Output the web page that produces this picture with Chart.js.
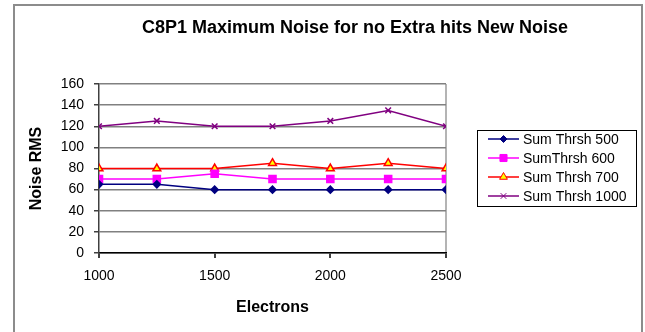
<!DOCTYPE html>
<html>
<head>
<meta charset="utf-8">
<script src="https://cdn.jsdelivr.net/npm/chart.js"></script>
<style>
  body { margin: 0; background: #fff; }
  #wrap { width: 645px; height: 332px; }
</style>
</head>
<body>
<div id="wrap"><canvas id="myChart" width="645" height="332"></canvas></div>
<script>
// values
const electrons = [1000, 1250, 1500, 1750, 2000, 2250, 2500];
const thrsh500 = [65, 65, 60, 60, 60, 60, 60];
const thrsh600 = [70, 70, 75, 70, 70, 70, 70];
const thrsh700 = [80, 80, 80, 85, 80, 85, 80];
const thrsh1000 = [120, 125, 120, 120, 125, 135, 120];
const seriesNames = ["Sum Thrsh 500", "SumThrsh 600", "Sum Thrsh 700", "Sum Thrsh 1000"];
const chartTitle = "C8P1 Maximum Noise for no Extra hits New Noise";

const FONT = "'Liberation Sans', Arial, sans-serif";

function pts(vals) {
    return electrons.map((x, i) => ({ x: x, y: vals[i] }));
}

// frame, title and boxed legend like the spreadsheet chart
const decor = {
    id: "decor",
    beforeDraw(chart) {
        const ctx = chart.ctx;
        ctx.save();
        ctx.strokeStyle = "#8c8c8c";
        ctx.lineWidth = 2;
        ctx.beginPath();
        ctx.moveTo(14, 340);
        ctx.lineTo(14, 5);
        ctx.lineTo(642, 5);
        ctx.lineTo(642, 340);
        ctx.stroke();
        ctx.restore();
    },
    afterDraw(chart) {
        const ctx = chart.ctx;
        ctx.save();
        ctx.fillStyle = "#000";
        ctx.font = "bold 18px " + FONT;
        ctx.textAlign = "center";
        ctx.textBaseline = "middle";
        ctx.fillText(chartTitle, 355, 28);

        // legend
        ctx.strokeStyle = "#000";
        ctx.lineWidth = 1;
        ctx.strokeRect(477.5, 130.5, 159, 76);
        ctx.font = "14px " + FONT;
        ctx.textAlign = "left";
        chart.data.datasets.forEach((ds, i) => {
            const y = 139 + i * 19;
            ctx.strokeStyle = ds.borderColor;
            ctx.lineWidth = ds.borderWidth;
            ctx.beginPath();
            ctx.moveTo(488, y);
            ctx.lineTo(519, y);
            ctx.stroke();
            ctx.fillStyle = ds.pointBackgroundColor;
            ctx.strokeStyle = ds.pointBorderColor;
            ctx.lineWidth = 1;
            Chart.helpers.drawPoint(ctx, {
                pointStyle: ds.pointStyle,
                radius: ds.pointRadius,
                rotation: 0,
                borderWidth: 1
            }, 503.5, y);
            ctx.fillStyle = "#000";
            ctx.fillText(ds.label, 523, y + 1);
        });
        ctx.restore();
    }
};

const data = {
    datasets: [{
        label: seriesNames[0],
        data: pts(thrsh500),
        borderColor: "#000080",
        borderWidth: 1.5,
        pointStyle: "rectRot",
        pointRadius: 3.5,
        pointBackgroundColor: "#000080",
        pointBorderColor: "#000080"
    }, {
        label: seriesNames[1],
        data: pts(thrsh600),
        borderColor: "#ff00ff",
        borderWidth: 1.5,
        pointStyle: "rect",
        pointRadius: 5,
        pointBackgroundColor: "#ff00ff",
        pointBorderColor: "#ff00ff"
    }, {
        label: seriesNames[2],
        data: pts(thrsh700),
        borderColor: "#ff0000",
        borderWidth: 1.5,
        pointStyle: "triangle",
        pointRadius: 4.5,
        pointBackgroundColor: "#ffff00",
        pointBorderColor: "#ff0000"
    }, {
        label: seriesNames[3],
        data: pts(thrsh1000),
        borderColor: "#800080",
        borderWidth: 1.5,
        pointStyle: "crossRot",
        pointRadius: 4,
        pointBackgroundColor: "#800080",
        pointBorderColor: "#800080"
    }]
};

const config = {
    type: "line",
    data: data,
    plugins: [decor],
    options: {
        responsive: false,
        animation: false,
        layout: { padding: { left: 0, top: 84, right: 199, bottom: 9 } },
        elements: { line: { tension: 0 }, point: { borderWidth: 1 } },
        plugins: {
            legend: { display: false },
            title: { display: false },
            tooltip: { enabled: false }
        },
        scales: {
            x: {
                type: "linear",
                min: 1000,
                max: 2500,
                afterFit: (s) => { s.height = 70; },
                ticks: {
                    stepSize: 500,
                    color: "#000",
                    padding: 10,
                    font: { family: FONT, size: 14 },
                    callback: (v) => String(v)
                },
                grid: {
                    color: (c) => (c.tick && c.tick.value === 2500) ? "#b4b4b4" : "rgba(0,0,0,0)",
                    tickColor: "#404040",
                    tickLength: 5,
                    lineWidth: 2
                },
                border: { display: true, color: "#000", width: 1.5 },
                title: {
                    display: true,
                    text: "Electrons",
                    color: "#000",
                    font: { family: FONT, size: 16, weight: "bold" },
                    padding: { bottom: 6 }
                }
            },
            y: {
                min: 0,
                max: 160,
                afterFit: (s) => { s.width = 99; },
                ticks: {
                    stepSize: 20,
                    color: "#000",
                    padding: 10,
                    font: { family: FONT, size: 14 }
                },
                grid: {
                    color: "#808080",
                    lineWidth: 1.5,
                    tickColor: "#404040",
                    tickLength: 5
                },
                border: { display: true, color: "#404040", width: 1.5 },
                title: {
                    display: true,
                    text: "Noise RMS",
                    color: "#000",
                    font: { family: FONT, size: 16, weight: "bold" },
                    padding: { top: 27 }
                }
            }
        }
    }
};

const noiseChart = new Chart(document.getElementById("myChart"), config);
</script>
</body>
</html>
